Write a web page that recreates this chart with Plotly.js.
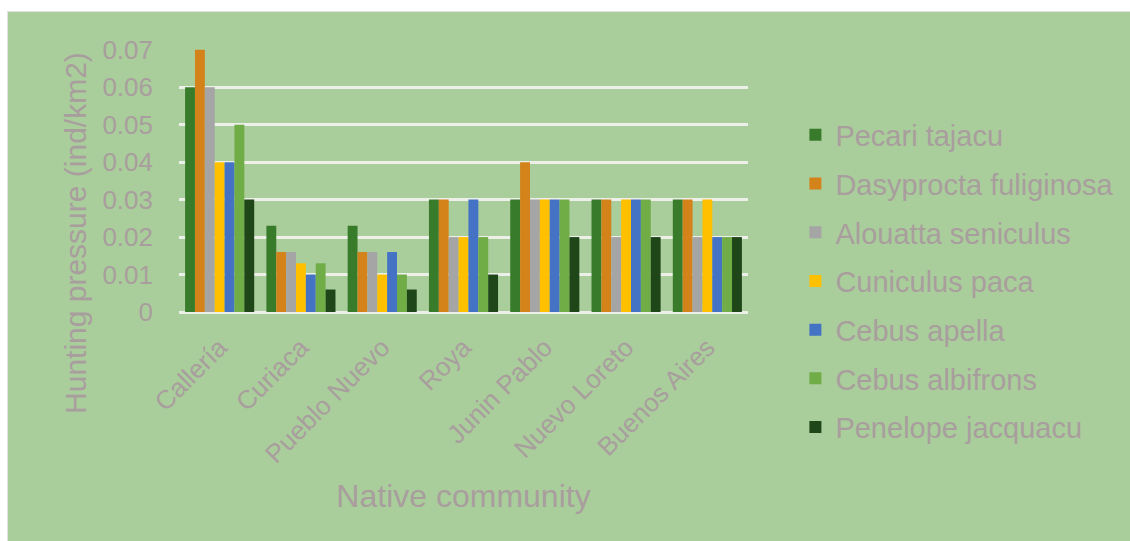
<!DOCTYPE html>
<html>
<head>
<meta charset="utf-8">
<script src="https://cdn.plot.ly/plotly-3.0.1.min.js"></script>
<style>
  html, body { margin: 0; padding: 0; background: #ffffff; }
  #chart {
    position: absolute; left: 7px; top: 11px;
    width: 1123px; height: 530px;
    border-left: 1px solid #e2e2e2; border-top: 1px solid #e2e2e2;
  }
</style>
</head>
<body>
<div id="chart"></div>
<script>
// Hunting pressure per native community (ind/km2), one array per species
const communities = ["Callería", "Curiaca", "Pueblo Nuevo", "Roya", "Junin Pablo", "Nuevo Loreto", "Buenos Aires"];

const pecariTajacu          = [0.060, 0.023, 0.023, 0.030, 0.030, 0.030, 0.030];
const dasyproctaFuliginosa  = [0.070, 0.016, 0.016, 0.030, 0.040, 0.030, 0.030];
const alouattaSeniculus     = [0.060, 0.016, 0.016, 0.020, 0.030, 0.020, 0.020];
const cuniculusPaca         = [0.040, 0.013, 0.010, 0.020, 0.030, 0.030, 0.030];
const cebusApella           = [0.040, 0.010, 0.016, 0.030, 0.030, 0.030, 0.020];
const cebusAlbifrons        = [0.050, 0.013, 0.010, 0.020, 0.030, 0.030, 0.020];
const penelopeJacquacu      = [0.030, 0.006, 0.006, 0.010, 0.020, 0.020, 0.020];

const yTickValues = [0, 0.01, 0.02, 0.03, 0.04, 0.05, 0.06, 0.07];
const yTickLabels = ["0", "0.01", "0.02", "0.03", "0.04", "0.05", "0.06", "0.07"];

const series = [
  { name: "Pecari tajacu",         values: pecariTajacu,         color: "#387C2B" },
  { name: "Dasyprocta fuliginosa", values: dasyproctaFuliginosa, color: "#D4821A" },
  { name: "Alouatta seniculus",    values: alouattaSeniculus,    color: "#A5A5A5" },
  { name: "Cuniculus paca",        values: cuniculusPaca,        color: "#FFC000" },
  { name: "Cebus apella",          values: cebusApella,          color: "#4472C4" },
  { name: "Cebus albifrons",       values: cebusAlbifrons,       color: "#70AD47" },
  { name: "Penelope jacquacu",     values: penelopeJacquacu,     color: "#1F4619" }
];

const textColor = "#A99E9E";
const font = "Liberation Sans, Arial, sans-serif";

const traces = series.map((s, i) => ({
  type: "bar",
  name: s.name,
  x: communities,
  y: s.values,
  legendgroup: "g" + i,
  marker: { color: s.color, line: { width: 0 } },
  hoverinfo: "x+y+name"
}));

const layout = {
  width: 1123,
  height: 530,
  paper_bgcolor: "#A9CD9B",
  plot_bgcolor: "rgba(0,0,0,0)",
  barmode: "group",
  bargap: 0.15,
  bargroupgap: 0,
  margin: { l: 171, r: 383, t: 37, b: 230, pad: 0 },
  font: { family: font, color: textColor },
  showlegend: true,
  legend: {
    x: 1.0833, xanchor: "left",
    y: 0.77, yanchor: "top",
    maxheight: 440,
    traceorder: "grouped",
    tracegroupgap: 8,
    bgcolor: "rgba(0,0,0,0)",
    font: { family: font, size: 29, color: textColor }
  },
  annotations: [{
    text: "Hunting pressure (ind/km2)",
    textangle: -90,
    xref: "paper", yref: "paper",
    x: -0.183, y: 0.30,
    xanchor: "center", yanchor: "middle",
    showarrow: false,
    font: { family: font, size: 30, color: textColor }
  }],
  xaxis: {
    type: "category",
    tickangle: -45,
    tickfont: { family: font, size: 26, color: textColor },
    ticks: "",
    ticklabelstandoff: 14,
    showgrid: false,
    showline: false,
    zeroline: false,
    title: {
      text: "Native community",
      font: { family: font, size: 32, color: textColor },
      standoff: 16
    }
  },
  yaxis: {
    range: [0, 0.0702],
    tickvals: yTickValues,
    ticktext: yTickLabels,
    tickfont: { family: font, size: 26, color: textColor },
    ticks: "",
    ticklabelstandoff: 25,
    showgrid: true,
    gridcolor: "#EDEFE9",
    gridwidth: 2.5,
    zeroline: true,
    zerolinecolor: "#EDEFE9",
    zerolinewidth: 2.5,
    showline: false
  }
};

Plotly.newPlot("chart", traces, layout, { displayModeBar: false, responsive: false });
</script>
</body>
</html>
